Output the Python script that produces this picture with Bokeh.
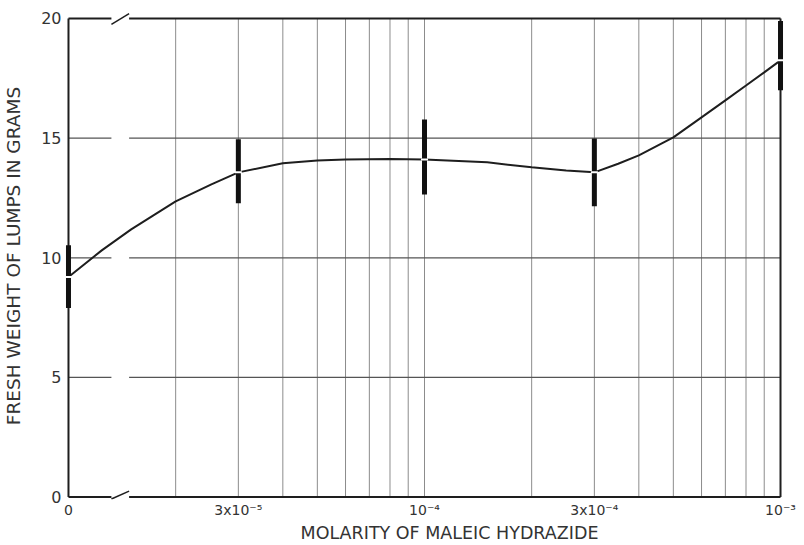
from bokeh.plotting import figure
from bokeh.models import FixedTicker, Range1d
from bokeh.embed import file_html
from bokeh.resources import INLINE

# ---- data ----
molarity = [0, 3e-5, 1e-4, 3e-4, 1e-3]
mean_weight = [9.2, 13.57, 14.11, 13.57, 18.25]
low_weight = [7.9, 12.28, 12.65, 12.15, 17.0]
high_weight = [10.52, 14.95, 15.78, 14.99, 19.9]

# smooth hand-drawn curve, read along its path
curve_molarity = [0, 1.24e-5, 1.5e-5, 2e-5, 2.52e-5, 3e-5, 4e-5, 5e-5, 6e-5, 8e-5, 1e-4,
                  1.5e-4, 2e-4, 2.5e-4, 3e-4, 3.5e-4, 4e-4, 5e-4, 6e-4, 7e-4, 8e-4, 9e-4, 1e-3]
curve_weight = [9.2, 10.31, 11.19, 12.36, 13.07, 13.57, 13.95, 14.07, 14.11, 14.13, 14.11,
                13.99, 13.78, 13.65, 13.57, 13.93, 14.28, 15.03, 15.87, 16.58, 17.2, 17.75, 18.25]

x_tick_values = [0, 3e-5, 1e-4, 3e-4, 1e-3]
x_tick_labels = ["0", "3x10\u207b\u2075", "10\u207b\u2074", "3x10\u207b\u2074", "10\u207b\u00b3"]
y_tick_values = [0, 5, 10, 15, 20]
y_grid_values = [5, 10, 15]
x_grid_values = [2e-5, 3e-5, 4e-5, 5e-5, 6e-5, 7e-5, 8e-5, 9e-5, 1e-4,
                 2e-4, 3e-4, 4e-4, 5e-4, 6e-4, 7e-4, 8e-4, 9e-4]

# axis geometry: zero sits at the start of the broken log axis
ZERO_POS = 1e-5
X_END = 1e-3
Y_MIN, Y_MAX = 0, 20
BREAK_LO, BREAK_HI = 1.32e-5, 1.48e-5


def xpos(v):
    return ZERO_POS if v == 0 else v


d = 0.0112
p = figure(frame_width=720, frame_height=487, x_axis_type="log",
           x_range=Range1d(10 ** (-5 - d), 10 ** (-3 + d)),
           y_range=Range1d(-0.1, 20.25),
           output_backend="svg", toolbar_location=None,
           min_border_left=55, min_border_right=13, min_border_top=12, min_border_bottom=38)
p.outline_line_color = None
p.grid.visible = False
p.background_fill_color = "white"

ink = "#1e1e1e"
grid_col = "#8c8c8c"

# vertical grid lines (only inside frame)
p.segment(x0=x_grid_values, y0=[Y_MIN] * len(x_grid_values), x1=x_grid_values,
          y1=[Y_MAX] * len(x_grid_values), line_color=grid_col, line_width=1)

# horizontal grid lines, interrupted at the axis break
hx0 = [ZERO_POS] * len(y_grid_values) + [BREAK_HI] * len(y_grid_values)
hx1 = [BREAK_LO] * len(y_grid_values) + [X_END] * len(y_grid_values)
hy = y_grid_values + y_grid_values
p.segment(x0=hx0, y0=hy, x1=hx1, y1=hy, line_color="#555555", line_width=1.3)

# frame with broken top / bottom
fx0 = [ZERO_POS, BREAK_HI, ZERO_POS, BREAK_HI, ZERO_POS, X_END]
fx1 = [BREAK_LO, X_END, BREAK_LO, X_END, ZERO_POS, X_END]
fy0 = [Y_MIN, Y_MIN, Y_MAX, Y_MAX, Y_MIN, Y_MIN]
fy1 = [Y_MIN, Y_MIN, Y_MAX, Y_MAX, Y_MAX, Y_MAX]
p.segment(x0=fx0, y0=fy0, x1=fx1, y1=fy1, line_color=ink, line_width=2)
# break slashes
p.segment(x0=[BREAK_LO, BREAK_LO], y0=[Y_MIN - 0.08, Y_MAX - 0.25],
          x1=[BREAK_HI, BREAK_HI], y1=[Y_MIN + 0.25, Y_MAX + 0.2],
          line_color=ink, line_width=1.5)

# curve
p.line([xpos(v) for v in curve_molarity], curve_weight, line_color=ink, line_width=2)

# error bars
bx = [xpos(v) for v in molarity]
p.segment(x0=bx, y0=low_weight, x1=bx, y1=high_weight, line_color="#111111", line_width=5)
p.scatter(bx, mean_weight, marker="dash", size=7, line_color="white", line_width=2)

# axes
p.xaxis.ticker = FixedTicker(ticks=[xpos(v) for v in x_tick_values])
p.xaxis.major_label_overrides = {xpos(v): lab for v, lab in zip(x_tick_values, x_tick_labels)}
p.yaxis.ticker = FixedTicker(ticks=y_tick_values)
for ax in (p.xaxis[0], p.yaxis[0]):
    ax.axis_line_color = None
    ax.major_tick_line_color = None
    ax.minor_tick_line_color = None
    ax.major_label_text_font = "DejaVu Sans"
    ax.major_label_text_color = "#333333"
    ax.axis_label_text_font = "DejaVu Sans"
    ax.axis_label_text_font_style = "normal"
    ax.axis_label_text_color = "#333333"

p.xaxis.axis_label = "\u00a0" * 9 + "MOLARITY OF MALEIC HYDRAZIDE"
p.xaxis.axis_label_text_font_size = "17.5px"
p.xaxis.major_label_text_font_size = "14px"
p.xaxis.major_label_standoff = -4
p.xaxis.axis_label_standoff = 2
p.yaxis.axis_label = "FRESH WEIGHT OF LUMPS IN GRAMS"
p.yaxis.axis_label_text_font_size = "18.5px"
p.yaxis.major_label_text_font_size = "16px"
p.yaxis.major_label_standoff = -3
p.yaxis.axis_label_standoff = 14

open("out.html", "w").write(file_html(p, INLINE))
